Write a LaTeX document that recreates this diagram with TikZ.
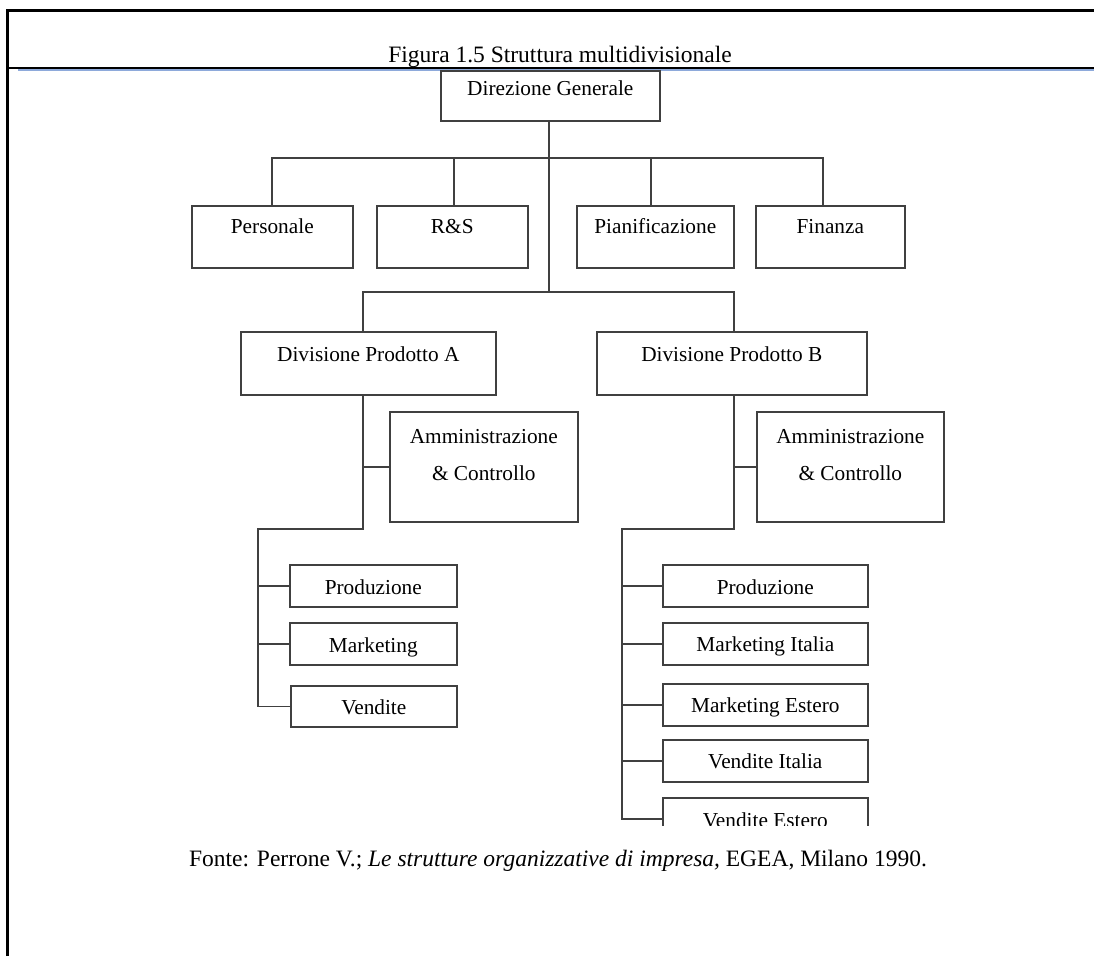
\documentclass[tikz,border=0pt]{standalone}
\usepackage{fontspec}
\setmainfont{Liberation Serif}
\newcommand\boxfont{\fontsize{21.3}{25.6}\selectfont}
\newcommand\capfont{\fontsize{23.5}{28}\selectfont}
\definecolor{sepblue}{RGB}{142,170,219}
\definecolor{boxline}{RGB}{64,64,64}
\begin{document}
\begin{tikzpicture}[x=1pt,y=-1pt,
  box/.style={draw=boxline, line width=1.6pt, inner sep=0pt, anchor=north west, font=\boxfont},
  link/.style={draw=boxline, line width=1.6pt},
  frame/.style={draw=black, line width=3pt, line join=miter},
  caption/.style={font=\capfont, anchor=base, inner sep=0pt}
]
\useasboundingbox (0,0) rectangle (1094,956);
\fill[white] (0,0) rectangle (1094,956);

% page frame and title band
\draw[frame] (7,956) -- (7,10) -- (1094,10);
\draw[draw=black, line width=2.2pt] (7,68) -- (1094,68);
\draw[draw=sepblue, line width=2pt] (18,70.2) -- (1094,70.2);
\node[caption] (title) at (560,62) {Figura 1.5 Struttura multidivisionale};

% top management
\node[box, minimum width=219pt, text height=25pt, text depth=25pt] (dg) at (440,70) {Direzione Generale};

% staff units
\node[box, minimum width=161pt, text height=28pt, text depth=34pt] (pers) at (191,205) {Personale};
\node[box, minimum width=151pt, text height=28pt, text depth=34pt] (rs)   at (376,205) {R\&S};
\node[box, minimum width=157pt, text height=28pt, text depth=34pt] (pian) at (576,205) {Pianificazione};
\node[box, minimum width=149pt, text height=28pt, text depth=34pt] (fin)  at (755,205) {Finanza};

% product divisions
\node[box, minimum width=255pt, text height=30pt, text depth=33pt] (diva) at (240,331) {Divisione Prodotto A};
\node[box, minimum width=270pt, text height=30pt, text depth=33pt] (divb) at (596,331) {Divisione Prodotto B};

% division staff
\node[box, minimum width=188pt, text height=32pt, text depth=78pt] (amma) at (389,411)
  {\begin{tabular}[t]{@{}c@{}}Amministrazione\\[11.4pt]\& Controllo\end{tabular}};
\node[box, minimum width=187pt, text height=32pt, text depth=78pt] (ammb) at (756,411)
  {\begin{tabular}[t]{@{}c@{}}Amministrazione\\[11.4pt]\& Controllo\end{tabular}};

% functions of division A
\node[box, minimum width=167pt, text height=30pt, text depth=12pt] (proda) at (289,564) {Produzione};
\node[box, minimum width=167pt, text height=30pt, text depth=12pt] (mkta)  at (289,622) {Marketing};
\node[box, minimum width=166pt, text height=29pt, text depth=12pt] (vena)  at (290,685) {Vendite};

% functions of division B
\node[box, minimum width=205pt, text height=30pt, text depth=12pt] (prodb) at (662,564) {Produzione};
\node[box, minimum width=205pt, text height=29pt, text depth=13pt] (mitb)  at (662,622) {Marketing Italia};
\node[box, minimum width=205pt, text height=29pt, text depth=13pt] (mesb)  at (662,683) {Marketing Estero};
\node[box, minimum width=205pt, text height=29pt, text depth=13pt] (vitb)  at (662,739) {Vendite Italia};
\begin{scope}
  \clip (600,780) rectangle (900,825);
  \node[box, minimum width=205pt, text height=30pt, text depth=12pt] (vesb) at (662,797) {Vendite Estero};
\end{scope}

% bus and trunk points
\coordinate (sbus) at (549,158);
\coordinate (dbus) at (549,292);
\coordinate (ta) at (363,529);
\coordinate (la) at (258,529);
\coordinate (tb) at (734,529);
\coordinate (lb) at (622,529);

% top management to staff and divisions
\draw[link] (dg.south -| dbus) -- (dbus);
\draw[link] (pers.north -| 272,0) |- (sbus) -| (fin.north -| 823,0);
\draw[link] (rs.north -| 454,0) -- (sbus -| 454,0);
\draw[link] (pian.north -| 651,0) -- (sbus -| 651,0);
\draw[link] (diva.north -| ta) |- (dbus) -| (divb.north -| tb);

% division A tree
\draw[link] (diva.south -| ta) -- (ta) -- (la) |- (vena.west);
\draw[link] (ta |- amma.west) -- (amma.west);
\draw[link] (la |- proda.west) -- (proda.west);
\draw[link] (la |- mkta.west) -- (mkta.west);

% division B tree
\draw[link] (divb.south -| tb) -- (tb) -- (lb) |- (vesb.west);
\draw[link] (tb |- ammb.west) -- (ammb.west);
\draw[link] (lb |- prodb.west) -- (prodb.west);
\draw[link] (lb |- mitb.west) -- (mitb.west);
\draw[link] (lb |- mesb.west) -- (mesb.west);
\draw[link] (lb |- vitb.west) -- (vitb.west);

% source line
\node[caption] (src) at (558,866) {Fonte: Perrone V.; \textit{Le strutture organizzative di impresa,} EGEA, Milano 1990.};
\end{tikzpicture}
\end{document}
